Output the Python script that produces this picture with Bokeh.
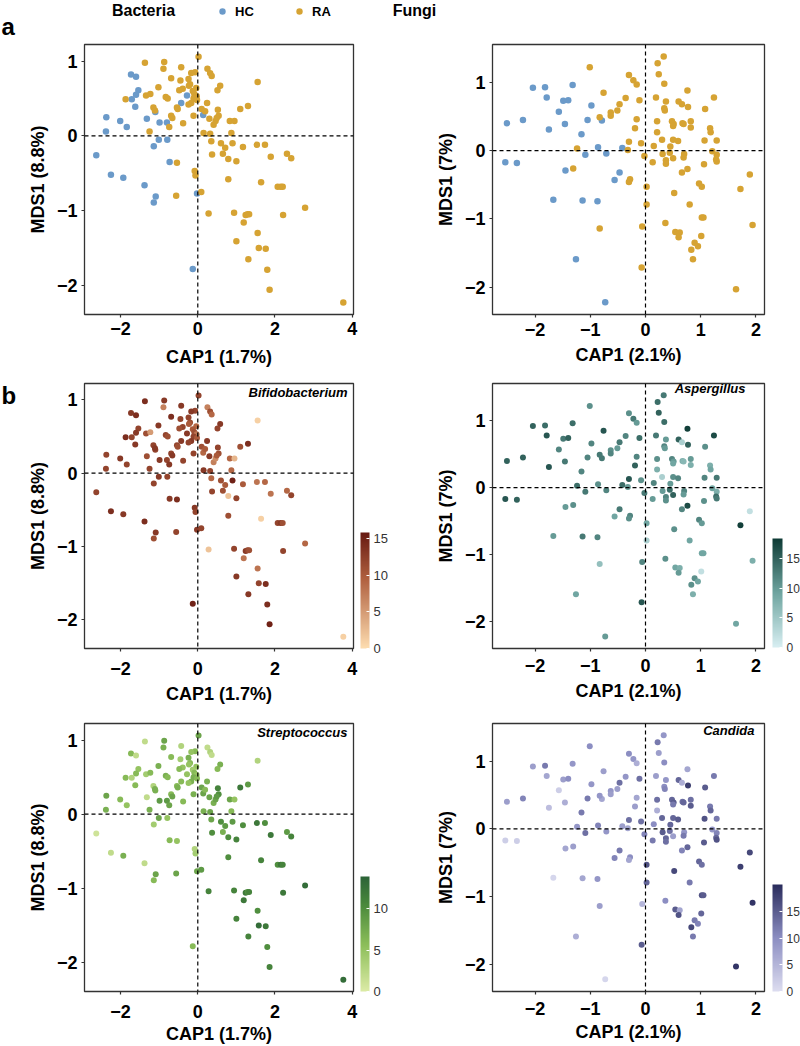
import numpy as np
from bokeh.plotting import figure
from bokeh.models import (Range1d, FixedTicker, Span, Label, ColorBar, LinearColorMapper,
                          Legend, LegendItem, ColumnDataSource, CustomJSTickFormatter)
from bokeh.core.properties import value
from bokeh.layouts import column, row
from bokeh.embed import file_html
from bokeh.resources import INLINE

FONT = "Liberation Sans"

# ---------------- Bacteria ordination (CAP1, MDS1) ----------------
bac_hc_x = [-1.73, -1.60, -1.54, -1.60, -1.71, -1.62, -2.37, -2.01, -1.84, -2.38, -1.32, -1.10, -0.99, -0.80,
            -0.28, -0.43, 0.14, -2.63, -2.25, -1.93, -1.38, -1.09, -1.14, -1.01, -0.79, -1.14, -0.73, -0.02, -0.13]
bac_hc_y = [0.82, 0.79, 0.61, 0.55, 0.49, 0.39, 0.25, 0.20, 0.12, 0.06, 0.23, 0.32, 0.18, 0.18,
            0.54, 0.44, 0.28, -0.26, -0.52, -0.56, -0.66, -0.81, -0.89, -0.05, -0.05, -0.14, -0.35, -0.77, -1.78]
bac_ra_x = [-1.37, -0.87, -0.43, -0.89, 0.25, 0.32, 0.36, 0.02, -0.07, -0.17,
            -0.69, -0.45, -0.24, -0.20, -0.23, -1.02, -0.39, -0.48, 0.58, 0.51,
            -1.87, -1.34, -1.23, -0.83, -0.78, -0.04, -0.13, -0.09, -0.03, -0.11,
            -0.02, -0.17, -0.24, 0.24, 0.10, 0.19, -1.15, -1.11, -0.54, -0.52,
            -0.69, -0.66, -0.11, 0.30, 0.52, 0.54, -0.38, 0.41, 0.46, 0.49,
            1.10, 1.30, 1.55, 0.83, 0.95, -1.25, -0.74, 0.15, 0.32, 0.87,
            0.90, 0.35, 0.60, 0.71, 0.37, 0.65, 0.79, 1.00, 1.17, 1.53,
            1.74, 1.89, 2.31, 2.42, -0.54, -0.08, -0.06, -0.56, 0.09, 0.79,
            1.64, 2.07, 2.15, 2.20, 0.28, 0.94, 1.24, 1.29, 1.33, 1.19,
            2.21, 2.78, 1.00, 1.55, 1.58, 1.76, 1.31, 1.80, 1.86, 3.77]
bac_ra_y = [0.98, 0.99, 0.92, 0.90, 0.90, 0.84, 0.80, 1.06, 0.85, 0.84,
            0.77, 0.74, 0.76, 0.69, 0.67, 0.65, 0.63, 0.61, 0.67, 0.61,
            0.49, 0.54, 0.56, 0.52, 0.50, 0.64, 0.60, 0.56, 0.53, 0.50,
            0.48, 0.44, 0.42, 0.44, 0.36, 0.33, 0.38, 0.34, 0.38, 0.36,
            0.27, 0.24, 0.27, 0.23, 0.35, 0.27, 0.17, 0.15, 0.20, 0.24,
            0.36, 0.40, 0.72, 0.20, 0.20, 0.06, 0.12, 0.04, 0.03, 0.04,
            -0.10, -0.07, -0.10, -0.16, -0.25, -0.24, -0.31, -0.34, -0.15, -0.12,
            -0.12, -0.28, -0.24, -0.30, -0.36, -0.47, -0.53, -0.80, -0.75, -0.58,
            -0.62, -0.68, -0.68, -0.68, -1.04, -1.03, -1.06, -1.05, -1.05, -1.16,
            -1.06, -0.96, -1.41, -1.30, -1.50, -1.51, -1.65, -1.79, -2.06, -2.23]
bifido_hc = [13, 14, 12, 13, 12, 13, 12, 13, 12, 12, 11, 12, 13, 12, 13, 13, 9, 12, 14, 13, 14, 13, 11, 13, 12, 12, 13, 13, 15]
bifido_ra = [14, 13, 13, 7, 7, 11, 9, 12, 12, 13,
             14, 12, 12, 11, 10, 13, 12, 11, 13, 12,
             14, 11, 5, 12, 11, 9, 10, 11, 8, 12,
             10, 13, 12, 13, 11, 10, 12, 13, 12, 11,
             12, 13, 12, 13, 12, 11, 12, 7, 6, 10,
             11, 14, 1, 9, 3, 12, 13, 13, 12, 9,
             15, 9, 11, 10, 12, 11, 2, 12, 10, 8,
             9, 8, 9, 12, 14, 13, 12, 12, 12, 11,
             1, 12, 13, 11, 2, 12, 13, 12, 11, 8,
             12, 9, 13, 8, 12, 14, 13, 14, 15, 1]
strep_hc = [6, 2, 5, 6, 3, 6, 8, 6, 5, 7, 2, 7, 9, 9, 5, 6, 8, 1, 2, 7, 2, 8, 6, 8, 5, 4, 6, 8, 6]
strep_ra = [2, 8, 3, 7, 2, 3, 2, 8, 6, 5,
            6, 4, 7, 6, 5, 7, 5, 6, 7, 6,
            6, 4, 6, 7, 6, 5, 4, 6, 5, 7,
            6, 7, 5, 7, 8, 6, 3, 7, 6, 7,
            6, 8, 7, 8, 11, 10, 6, 7, 8, 9,
            12, 9, 3, 8, 5, 7, 8, 7, 8, 6,
            9, 8, 10, 9, 10, 7, 10, 11, 10, 12,
            10, 12, 9, 11, 5, 3, 4, 8, 9, 10,
            11, 10, 12, 11, 11, 11, 12, 10, 11, 12,
            12, 13, 11, 10, 13, 12, 11, 10, 11, 13]

# ---------------- Fungi ordination (CAP1, MDS1) ----------------
fun_hc_x = [-2.04, -1.82, -1.79, -1.32, -1.49, -1.40, -1.57, -2.51, -2.22, -1.46, -1.75, -0.98, -1.05, -0.79,
            -1.16, -0.86, -1.09, -0.71, -0.42, -2.54, -2.33, -1.45, -0.47, -0.56, -1.67, -1.14, -0.87, -1.26, -0.73]
fun_hc_y = [0.92, 0.93, 0.78, 0.96, 0.73, 0.74, 0.57, 0.40, 0.45, 0.39, 0.31, 0.66, 0.45, 0.44,
            0.24, 0.05, -0.06, -0.04, 0.04, -0.17, -0.18, -0.29, -0.32, -0.43, -0.72, -0.73, -0.74, -1.59, -2.22]
fun_ra_x = [0.33, 0.22, 0.24, -1.01, -0.30, -0.22, -0.16, 0.34, 0.76, -0.76,
            -0.36, -0.11, 0.19, 0.37, 0.60, 0.66, 1.24, -0.47, 0.77, 0.34,
            0.35, -0.63, -0.63, -0.51, 1.08, -0.83, -0.16, -0.19, 0.21, 0.48,
            0.51, 0.50, 0.67, 0.69, 0.82, 0.82, 0.21, 1.17, 1.18, 0.30,
            0.50, 0.59, 1.07, 1.29, 0.15, 0.45, -0.30, -0.32, -0.08, -1.24,
            -0.02, 0.31, 0.44, 0.37, 0.37, 0.13, 0.50, 0.70, 0.69, 0.76,
            0.66, 1.21, 1.29, 1.28, 1.29, 1.06, -1.31, -0.28, -0.30, 0.02,
            0.97, 1.02, 0.52, 1.72, 1.89, 0.80, 0.02, 0.36, -0.06, -0.83,
            0.54, 0.62, 0.60, 1.02, 1.05, 1.94, 1.01, 0.89, 0.95, 0.83,
            0.86, -0.07, 1.64]
fun_ra_y = [1.38, 1.28, 1.12, 1.22, 1.11, 1.03, 0.97, 0.98, 0.88, 0.85,
            0.77, 0.74, 0.78, 0.72, 0.72, 0.68, 0.78, 0.68, 0.64, 0.62,
            0.59, 0.56, 0.51, 0.59, 0.61, 0.49, 0.46, 0.33, 0.43, 0.43,
            0.39, 0.36, 0.40, 0.39, 0.43, 0.34, 0.27, 0.33, 0.27, 0.16,
            0.16, 0.14, 0.15, 0.15, 0.07, 0.06, 0.13, 0.01, 0.11, 0.03,
            -0.08, -0.05, -0.03, -0.14, -0.19, -0.17, -0.11, -0.05, -0.10, -0.27,
            -0.32, -0.01, -0.06, -0.13, -0.16, -0.20, -0.26, -0.42, -0.46, -0.53,
            -0.48, -0.53, -0.62, -0.56, -0.35, -0.79, -0.79, -1.06, -1.11, -1.14,
            -1.19, -1.20, -1.27, -0.98, -0.98, -1.09, -1.25, -1.35, -1.40, -1.45,
            -1.59, -1.71, -2.03]
asper_hc = [15, 14, 16, 14, 13, 15, 12, 15, 15, 13, 16, 12, 12, 13, 12, 11, 13, 12, 14, 16, 15, 10, 13, 9, 10, 13, 12, 9, 10]
asper_ra = [13, 14, 15, 11, 11, 13, 10, 14, 18, 16,
            12, 14, 13, 10, 15, 4, 17, 13, 15, 12,
            10, 11, 12, 10, 11, 13, 12, 15, 11, 12,
            10, 9, 8, 7, 10, 8, 8, 8, 9, 4,
            11, 12, 12, 13, 12, 10, 16, 10, 11, 14,
            13, 10, 14, 12, 11, 10, 15, 12, 10, 17,
            12, 9, 8, 14, 13, 11, 11, 12, 11, 9,
            12, 10, 11, 18, 2, 9, 4, 11, 12, 6,
            9, 8, 10, 9, 9, 8, 2, 11, 9, 11,
            8, 16, 9]
candida_hc = [8, 12, 7, 9, 8, 10, 2, 8, 11, 6, 4, 9, 12, 7, 12, 11, 13, 9, 8, 2, 2, 7, 12, 11, 1, 7, 9, 6, 1]
candida_ra = [9, 12, 8, 10, 10, 9, 6, 10, 7, 8,
              9, 13, 8, 9, 14, 6, 12, 13, 18, 10,
              11, 9, 8, 8, 15, 9, 7, 8, 13, 14,
              15, 12, 13, 14, 13, 15, 6, 12, 14, 14,
              14, 15, 16, 12, 10, 14, 13, 7, 13, 9,
              11, 15, 13, 14, 13, 12, 8, 9, 12, 14,
              11, 9, 11, 14, 16, 15, 8, 10, 7, 16,
              14, 13, 17, 18, 17, 12, 14, 10, 5, 8,
              15, 7, 16, 16, 15, 19, 14, 12, 11, 17,
              12, 15, 19]

group_labels = ["HC", "RA"]
HC_COLOR = "#6B9AC9"
RA_COLOR = "#D6A333"


def ramp(stops, n=256):
    pos = np.array([s[0] for s in stops])
    rgb = np.array([[int(s[1][i:i + 2], 16) for i in (1, 3, 5)] for s in stops], dtype=float)
    out = []
    for v in np.linspace(0, 1, n):
        c = [np.interp(v, pos, rgb[:, k]) for k in range(3)]
        out.append("#%02x%02x%02x" % tuple(int(round(x)) for x in c))
    return out


PAL_BIFIDO = ramp([(0, "#FEDDB0"), (0.6, "#B0603F"), (1, "#671A12")])
PAL_STREP = ramp([(0, "#DCEBA6"), (0.4, "#8DBF5A"), (0.75, "#4B8A3D"), (1, "#2C6337")])
PAL_ASPER = ramp([(0, "#D8EFF2"), (0.5, "#6FA5A0"), (1, "#0E3B35")])
PAL_CANDIDA = ramp([(0, "#DDDDF0"), (0.5, "#8C8EC2"), (1, "#2A2C5C")])

BAC_X = (-2.935, 4.034)
BAC_Y = (-2.39, 1.223)
FUN_X = (-2.772, 2.156)
FUN_Y = (-2.40, 1.555)

FMT = CustomJSTickFormatter(code="return tick < 0 ? '\u2212' + Math.abs(tick) : String(tick);")


def blank_fig(width, height):
    p = figure(width=width, height=height, x_range=Range1d(0, width), y_range=Range1d(height, 0),
               min_border=0, title=None, x_axis_location=None, y_axis_location=None,
               output_backend="svg", toolbar_location=None)
    p.grid.visible = False
    p.outline_line_color = None
    p.background_fill_color = "white"
    p.border_fill_color = "white"
    return p


def base_panel(width, height, bl, br, bt, bb, xr, yr, xticks, xlabel, ylabel, xs1, xs2):
    p = figure(width=width, height=height, x_range=Range1d(*xr), y_range=Range1d(*yr),
               min_border_left=bl, min_border_right=br, min_border_top=bt, min_border_bottom=bb,
               output_backend="svg", toolbar_location=None)
    p.grid.visible = False
    p.outline_line_color = "#333333"
    p.outline_line_width = 1.3
    p.background_fill_color = "white"
    p.border_fill_color = "white"
    for ax, ticks, lab, s1, s2 in ((p.xaxis[0], xticks, xlabel, xs1, xs2),
                                   (p.yaxis[0], [-2, -1, 0, 1], ylabel, 4, 6)):
        ax.ticker = FixedTicker(ticks=ticks)
        ax.formatter = FMT
        ax.axis_label = lab
        ax.axis_label_text_font = FONT
        ax.axis_label_text_font_size = "18px"
        ax.axis_label_text_font_style = "bold"
        ax.axis_label_text_color = "black"
        ax.major_label_text_font = FONT
        ax.major_label_text_font_size = "18px"
        ax.major_label_text_font_style = "bold"
        ax.major_label_text_color = "black"
        ax.axis_line_color = None
        ax.major_tick_line_color = "#333333"
        ax.major_tick_line_width = 1.2
        ax.major_tick_out = 3
        ax.major_tick_in = 0
        ax.minor_tick_line_color = None
        ax.major_label_standoff = s1
        ax.axis_label_standoff = s2
    p.add_layout(Span(location=0, dimension="width", line_dash="4 3", line_color="black", line_width=1.2))
    p.add_layout(Span(location=0, dimension="height", line_dash="4 3", line_color="black", line_width=1.2))
    return p


def gradient_panel(width, height, bl, br, bt, bb, xr, yr, xticks, xlabel, ylabel, xs1, xs2,
                   xs, ys, vals, pal, high, cticks, cb_loc, cb_w, cb_h, cb_font, name, name_xy):
    p = base_panel(width, height, bl, br, bt, bb, xr, yr, xticks, xlabel, ylabel, xs1, xs2)
    mapper = LinearColorMapper(palette=pal, low=0, high=high)
    src = ColumnDataSource(dict(x=xs, y=ys, v=vals))
    p.scatter("x", "y", source=src, size=6, line_color=None,
              fill_color={"field": "v", "transform": mapper})
    cb = ColorBar(color_mapper=mapper, location=cb_loc, width=cb_w, height=cb_h,
                  padding=0, margin=0, ticker=FixedTicker(ticks=cticks),
                  major_label_text_font=FONT, major_label_text_font_size=cb_font,
                  major_label_text_color="#333333", label_standoff=4,
                  major_tick_line_color="white", major_tick_in=3, major_tick_out=0,
                  minor_tick_line_color=None, bar_line_color=None, border_line_color=None,
                  background_fill_alpha=0)
    p.add_layout(cb)
    p.add_layout(Label(x=name_xy[0], y=name_xy[1], x_units="screen", y_units="screen", text=name,
                       text_font=FONT, text_font_size="13px", text_font_style="bold italic",
                       text_align="right", text_baseline="middle", text_color="black"))
    return p


# ---------- header ----------
hdr = blank_fig(800, 40)
hdr.text(x=[143, 414], y=[10, 10], text=["Bacteria", "Fungi"], text_font=value(FONT),
         text_font_size="16px", text_font_style="bold", text_align="center", text_baseline="middle",
         text_color="black")
hdr.text(x=[1], y=[25.5], text=["a"], text_font=value(FONT), text_font_size="24px",
         text_font_style="bold", text_align="left", text_baseline="middle", text_color="black")
# off-screen single points: only used to draw the legend swatches
leg_hc = hdr.scatter(x=[-100], y=[-100], size=6.5, fill_color=HC_COLOR, line_color=None)
leg_ra = hdr.scatter(x=[-100], y=[-100], size=6.5, fill_color=RA_COLOR, line_color=None)
legend = Legend(items=[LegendItem(label=group_labels[0], renderers=[leg_hc]),
                       LegendItem(label=group_labels[1], renderers=[leg_ra])],
                location=(214, 21), orientation="horizontal", padding=0, margin=0, spacing=36,
                glyph_width=16, glyph_height=16, label_height=16, label_standoff=5,
                label_text_font=FONT, label_text_font_size="13px", label_text_font_style="bold",
                label_text_color="black", border_line_color=None, background_fill_alpha=0)
hdr.add_layout(legend)

# ---------- row a ----------
pa1 = base_panel(400, 332, 84, 47, 3, 58, BAC_X, BAC_Y, [-2, 0, 2, 4], "CAP1 (1.7%)", "MDS1 (8.8%)", 4, 9)
pa1.scatter(bac_hc_x, bac_hc_y, size=6.5, fill_color=HC_COLOR, line_color=None)
pa1.scatter(bac_ra_x, bac_ra_y, size=6.5, fill_color=RA_COLOR, line_color=None)

pa2 = base_panel(400, 332, 92, 36, 4, 56, FUN_X, FUN_Y, [-2, -1, 0, 1, 2], "CAP1 (2.1%)", "MDS1 (7%)", 5, 6)
pa2.scatter(fun_hc_x, fun_hc_y, size=6.5, fill_color=HC_COLOR, line_color=None)
pa2.scatter(fun_ra_x, fun_ra_y, size=6.5, fill_color=RA_COLOR, line_color=None)

bac_x = bac_hc_x + bac_ra_x
bac_y = bac_hc_y + bac_ra_y
fun_x = fun_hc_x + fun_ra_x
fun_y = fun_hc_y + fun_ra_y

# ---------- row b ----------
bfig = blank_fig(22, 334)
bfig.text(x=[1], y=[14.5], text=["b"], text_font=value(FONT), text_font_size="24px",
          text_font_style="bold", text_align="left", text_baseline="middle", text_color="black")
pb1 = gradient_panel(378, 334, 62, 47, 7, 56, BAC_X, BAC_Y, [-2, 0, 2, 4], "CAP1 (1.7%)", "MDS1 (8.8%)", 10, 6,
                     bac_x, bac_y, bifido_hc + bifido_ra, PAL_BIFIDO, 15.8, [0, 5, 10, 15],
                     (276, 0), 9, 116, "13px", "Bifidobacterium", (263, 256))
pb2 = gradient_panel(400, 334, 92, 36, 11, 52, FUN_X, FUN_Y, [-2, -1, 0, 1, 2], "CAP1 (2.1%)", "MDS1 (7%)", 7, 6,
                     fun_x, fun_y, asper_hc + asper_ra, PAL_ASPER, 18.4, [0, 5, 10, 15],
                     (280, 1), 10, 109, "12px", "Aspergillus", (253, 260))

# ---------- row c ----------
pc1 = gradient_panel(400, 340, 84, 47, 14, 54, BAC_X, BAC_Y, [-2, 0, 2, 4], "CAP1 (1.7%)", "MDS1 (8.8%)", 10, 3,
                     bac_x, bac_y, strep_hc + strep_ra, PAL_STREP, 13.9, [0, 5, 10],
                     (276, 0), 9, 115, "13px", "Streptococcus", (263, 259))
pc2 = gradient_panel(400, 340, 92, 36, 17, 52, FUN_X, FUN_Y, [-2, -1, 0, 1, 2], "CAP1 (2.1%)", "MDS1 (7%)", 7, 4,
                     fun_x, fun_y, candida_hc + candida_ra, PAL_CANDIDA, 20.0, [0, 5, 10, 15],
                     (280, 0), 10, 107, "12px", "Candida", (262, 261))

layout = column(hdr, row(pa1, pa2), row(bfig, pb1, pb2), row(pc1, pc2))
open("out.html", "w").write(file_html(layout, INLINE))
